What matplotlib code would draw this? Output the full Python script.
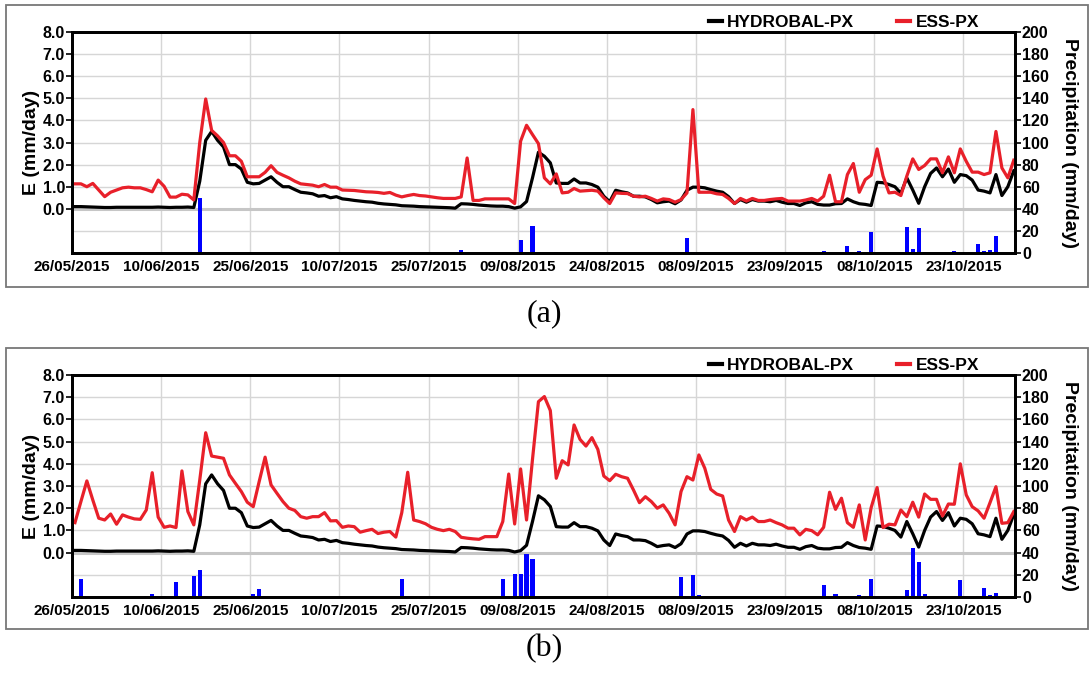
import datetime as dt
import matplotlib
matplotlib.use('Agg')
import matplotlib.pyplot as plt
from matplotlib.lines import Line2D
from matplotlib.patches import Rectangle

# Daily values from 26/05/2015 (day 0) to 31/10/2015 (day 158)
start = dt.datetime(2015, 5, 26)

hydrobal = [
    0.10, 0.10, 0.09, 0.08, 0.07, 0.06, 0.06, 0.07, 0.07, 0.07, 0.07, 0.07, 0.07, 0.07, 0.08, 0.07, 0.06, 0.07, 0.07, 0.08, 0.06,
    1.25, 3.10, 3.50, 3.10, 2.80, 2.00, 2.00, 1.80, 1.20, 1.13, 1.15, 1.30, 1.45, 1.20, 1.00, 1.00, 0.87, 0.75, 0.72, 0.68,
    0.57, 0.60, 0.50, 0.55, 0.45, 0.42, 0.38, 0.35, 0.32, 0.30, 0.25, 0.22, 0.20, 0.18, 0.14, 0.13, 0.12, 0.10, 0.09, 0.08,
    0.07, 0.06, 0.05, 0.03, 0.23, 0.22, 0.20, 0.17, 0.15, 0.13, 0.12, 0.12, 0.10, 0.03, 0.09, 0.33, 1.40, 2.56, 2.38, 2.08,
    1.17, 1.15, 1.15, 1.35, 1.17, 1.17, 1.10, 0.98, 0.57, 0.32, 0.84, 0.77, 0.72, 0.57, 0.57, 0.54, 0.42, 0.27, 0.32, 0.35,
    0.23, 0.40, 0.84, 0.98, 0.98, 0.95, 0.87, 0.80, 0.75, 0.55, 0.24, 0.42, 0.30, 0.42, 0.35, 0.35, 0.32, 0.38, 0.30, 0.24,
    0.24, 0.15, 0.27, 0.32, 0.20, 0.17, 0.17, 0.23, 0.24, 0.45, 0.32, 0.23, 0.20, 0.15, 1.20, 1.18, 1.10, 1.00, 0.70, 1.40,
    0.85, 0.25, 1.00, 1.60, 1.85, 1.45, 1.80, 1.20, 1.55, 1.50, 1.30, 0.85, 0.80, 0.72, 1.55, 0.60, 1.00, 1.72,
]

ess_a = [
    1.13, 1.13, 1.00, 1.15, 0.85, 0.55, 0.75, 0.85, 0.95, 0.98, 0.95, 0.95, 0.87, 0.77, 1.30, 1.02, 0.53, 0.53, 0.66, 0.63, 0.40,
    3.00, 4.97, 3.55, 3.30, 3.00, 2.40, 2.40, 2.15, 1.45, 1.45, 1.45, 1.65, 1.95, 1.65, 1.52, 1.40, 1.25, 1.13, 1.10, 1.07,
    1.00, 1.10, 0.98, 0.98, 0.85, 0.84, 0.83, 0.80, 0.77, 0.76, 0.74, 0.70, 0.74, 0.62, 0.54, 0.60, 0.65, 0.60, 0.58, 0.54,
    0.50, 0.47, 0.47, 0.47, 0.54, 2.30, 0.38, 0.38, 0.45, 0.45, 0.45, 0.45, 0.45, 0.24, 3.06, 3.78, 3.36, 2.95, 1.40, 1.13,
    1.58, 0.72, 0.75, 0.92, 0.80, 0.82, 0.84, 0.80, 0.50, 0.24, 0.72, 0.70, 0.69, 0.57, 0.54, 0.57, 0.47, 0.35, 0.45, 0.42,
    0.30, 0.42, 0.72, 4.49, 0.75, 0.75, 0.75, 0.68, 0.65, 0.47, 0.24, 0.47, 0.35, 0.47, 0.38, 0.38, 0.42, 0.45, 0.47, 0.35,
    0.35, 0.35, 0.40, 0.47, 0.35, 0.57, 1.52, 0.32, 0.32, 1.55, 2.05, 0.75, 1.32, 1.52, 2.71, 1.48, 0.72, 0.75, 0.60, 1.48,
    2.26, 1.78, 1.96, 2.26, 2.26, 1.63, 2.35, 1.63, 2.71, 2.15, 1.66, 1.66, 1.55, 1.63, 3.50, 1.85, 1.40, 2.20,
]

ess_b = [
    1.35, 2.30, 3.23, 2.37, 1.55, 1.47, 1.74, 1.28, 1.70, 1.60, 1.52, 1.50, 1.92, 3.60, 1.60, 1.14, 1.20, 1.13, 3.68, 1.85, 1.25,
    3.27, 5.40, 4.35, 4.30, 4.25, 3.50, 3.12, 2.75, 2.27, 2.07, 3.20, 4.30, 3.05, 2.67, 2.30, 2.00, 1.90, 1.62, 1.55, 1.62,
    1.62, 1.80, 1.43, 1.44, 1.14, 1.20, 1.17, 0.92, 0.99, 1.05, 0.86, 0.92, 0.95, 0.70, 1.80, 3.62, 1.47, 1.40, 1.30, 1.14,
    1.05, 0.99, 1.05, 0.95, 0.69, 0.65, 0.62, 0.60, 0.72, 0.72, 0.72, 1.40, 3.54, 1.29, 3.77, 1.47, 4.20, 6.80, 7.03, 6.40,
    3.35, 4.14, 3.95, 5.75, 5.10, 4.80, 5.18, 4.65, 3.45, 3.24, 3.53, 3.42, 3.35, 2.82, 2.25, 2.52, 2.30, 2.00, 2.15, 1.77,
    1.25, 2.75, 3.42, 3.27, 4.40, 3.80, 2.85, 2.64, 2.55, 1.47, 0.95, 1.62, 1.47, 1.60, 1.40, 1.40, 1.47, 1.35, 1.25, 1.10,
    1.10, 0.80, 1.05, 0.99, 0.80, 1.14, 2.72, 1.95, 2.45, 1.35, 1.14, 2.15, 0.57, 2.03, 2.93, 1.13, 1.28, 1.25, 1.92, 1.62,
    2.27, 1.60, 2.64, 2.40, 2.40, 1.65, 2.19, 2.18, 4.00, 2.60, 2.07, 1.88, 1.55, 2.25, 2.97, 1.32, 1.35, 1.85,
]

# Precipitation (mm/day), only the rainy days
rain_a_days = [14, 21, 65, 75, 76, 77, 81, 103, 104, 126, 130, 132, 134, 140, 141, 142, 143, 148, 152, 153, 154, 155]
rain_a = [0.8, 49.5, 3, 12, 1, 24.7, 0.5, 13.6, 1, 2, 6, 2, 18.7, 23.5, 3.6, 22.6, 0.5, 2, 8, 1.5, 3, 15]

rain_b_days = [1, 5, 12, 13, 15, 17, 20, 21, 22, 30, 31, 50, 55, 72, 74, 75, 76, 77, 98, 102,
               104, 105, 126, 128, 130, 132, 134, 138, 140, 141, 142, 143, 149, 152, 153, 154, 155, 157]
rain_b = [16.5, 0.3, 1, 2.4, 0.5, 13.5, 18.6, 24, 1, 2.4, 7.5, 0.5, 16, 16, 20.5, 21, 38.5, 34.6, 0.5, 18,
          20, 1.5, 11, 3, 0.5, 1.5, 16.2, 1.2, 6, 44, 31.6, 3, 15, 0.5, 8.4, 1.5, 4, 0.5]

tick_labels = ['26/05/2015', '10/06/2015', '25/06/2015', '10/07/2015', '25/07/2015', '09/08/2015',
               '24/08/2015', '08/09/2015', '23/09/2015', '08/10/2015', '23/10/2015']
series_names = ['HYDROBAL-PX', 'ESS-PX']

RED = '#e8202a'

plt.rcParams['font.family'] = 'Liberation Sans'
plt.rcParams['font.weight'] = 'bold'
plt.rcParams['axes.labelweight'] = 'bold'

dates = [start + dt.timedelta(days=i + 0.5) for i in range(len(hydrobal))]
tick_dates = [dt.datetime.strptime(t, '%d/%m/%Y') for t in tick_labels]

fig = plt.figure(figsize=(10.91, 6.74), dpi=100)


def draw_panel(rect, ess, rain_days, rain, box, caption, cap_y):
    ax = fig.add_axes(rect)      # precipitation bars, right axis
    ax2 = ax.twinx()             # evaporation lines, left axis

    bar_dates = [start + dt.timedelta(days=d + 0.5) for d in rain_days]
    ax.bar(bar_dates, rain, width=0.7, color='#0000ff', zorder=2)
    ax.set_ylim(0, 200)
    ax.set_yticks(range(0, 201, 20))
    ax.yaxis.tick_right()
    ax.yaxis.set_label_position('right')
    ax.set_ylabel('Precipitation (mm/day)', fontsize=14, rotation=270, va='bottom', labelpad=9)
    ax.grid(True, color='#d6d6d6', lw=1)
    ax.set_axisbelow(True)
    ax.axhline(40, color='#c6c6c6', lw=2.2, zorder=0.6)

    ax.set_xlim(start, start + dt.timedelta(days=158.7))
    ax.set_xticks(tick_dates)
    ax.set_xticklabels(tick_labels)
    ax.tick_params(axis='x', length=0, pad=5, labelsize=11)
    ax.tick_params(axis='y', length=4, width=1.2, pad=1, labelsize=11.5)

    ax2.plot(dates, hydrobal, color='black', lw=2.3)
    ax2.plot(dates, ess, color=RED, lw=2.3)
    ax2.set_ylim(-2, 8)
    ax2.set_yticks(range(0, 9))
    ax2.set_yticklabels(['%.1f' % v for v in range(0, 9)])
    ax2.yaxis.tick_left()
    ax2.yaxis.set_label_position('left')
    ax2.set_ylabel('E (mm/day)', fontsize=14, labelpad=2)
    ax2.tick_params(axis='y', length=4, width=1.2, pad=1, labelsize=11.5)

    for a in (ax, ax2):
        for s in a.spines.values():
            s.set_linewidth(2)
            s.set_color('black')

    handles = [Line2D([], [], color='black', lw=3), Line2D([], [], color=RED, lw=3)]
    ax2.legend(handles, series_names, loc='center right', bbox_to_anchor=(0.962, 1.045),
               ncol=2, frameon=False, prop={'size': 12.5, 'weight': 'bold'},
               handlelength=0.75, handletextpad=0.3, columnspacing=2.5,
               borderpad=0, borderaxespad=0)

    fig.add_artist(Rectangle(box[:2], box[2], box[3], transform=fig.transFigure,
                             fill=False, edgecolor='#777777', lw=1.3))
    fig.text(0.4986, cap_y, caption, ha='center', va='center',
             family='Liberation Serif', fontsize=23, weight='normal')


draw_panel([0.066, 0.6246, 0.8643, 0.3279], ess_a, rain_a_days, rain_a,
           (0.0055, 0.5742, 0.992, 0.4184), '(a)', 0.534)
draw_panel([0.066, 0.1142, 0.8643, 0.3294], ess_b, rain_b_days, rain_b,
           (0.0055, 0.0668, 0.992, 0.4169), '(b)', 0.037)

fig.savefig('out.png', dpi=100)
